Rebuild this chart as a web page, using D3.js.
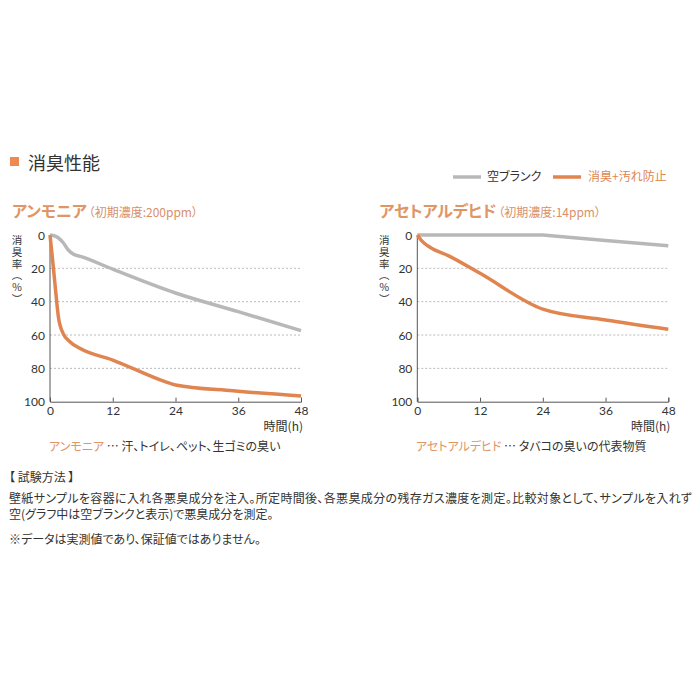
<!DOCTYPE html>
<html><head><meta charset="utf-8">
<script src="https://cdn.jsdelivr.net/npm/d3@7"></script>
<style>
body{margin:0;background:#fff;font-family:"Noto Sans CJK JP","Noto Sans",sans-serif;}
text{font-feature-settings:"palt";}
text.vt{writing-mode:vertical-rl;font-feature-settings:normal;letter-spacing:1.2px;}
</style></head><body>
<svg id="c" width="700" height="700"></svg>
<script>
const hours = [0, 12, 24, 36, 48];
const yTicks = [0, 20, 40, 60, 80, 100];
const seriesNames = ["空ブランク", "消臭+汚れ防止"];
// Ammonia
const ammoniaBlankT = [0, 0.6, 1.5, 2.5, 3.5, 4.5, 6, 12, 24, 36, 48];
const ammoniaBlankV = [0, 0.3, 1.5, 4.5, 9, 11.5, 13, 20.5, 34.8, 46, 57.4];
const ammoniaOdorT = [0, 0.5, 1, 1.6, 2.5, 3.8, 5.7, 12, 22, 24, 35, 48];
const ammoniaOdorV = [0, 15, 31, 49, 59, 64, 68, 75, 88, 90, 93.5, 96.6];
// Acetaldehyde
const acetBlankT = [0, 12, 24, 36, 48];
const acetBlankV = [0, 0, 0, 3.3, 6.5];
const acetOdorT = [0, 1, 2.5, 6, 12, 24, 36, 48];
const acetOdorV = [0, 4, 7.5, 12.5, 23, 44.5, 51, 56.5];
const yTitle = "消臭率（％）";

const ORANGE = "#e0854f", GRAY = "#b8b8b8", TEXT = "#333";
const svg = d3.select("#c");

// Title
svg.append("rect").attr("x", 10).attr("y", 157).attr("width", 9).attr("height", 9).attr("fill", "#ee8a4f");
svg.append("text").attr("x", 28).attr("y", 170).attr("font-size", 18).attr("fill", "#333").text("消臭性能");

// Legend
const leg = svg.append("g");
leg.append("line").attr("x1", 453).attr("x2", 481).attr("y1", 177).attr("y2", 177).attr("stroke", GRAY).attr("stroke-width", 3.5);
leg.append("text").attr("x", 487).attr("y", 181).attr("font-size", 12).attr("fill", TEXT).text(seriesNames[0]);
leg.append("line").attr("x1", 553).attr("x2", 581).attr("y1", 177).attr("y2", 177).attr("stroke", ORANGE).attr("stroke-width", 3.5);
leg.append("text").attr("x", 588).attr("y", 181).attr("font-size", 12).attr("fill", ORANGE).text(seriesNames[1]);

function chart(x0, x1, title, sub, blankT, blankV, odorT, odorV, capName, capRest, capX, blankCurve) {
  const g = svg.append("g");
  const x = d3.scaleLinear().domain([0, 48]).range([x0, x1]);
  const y = d3.scaleLinear().domain([0, 100]).range([235, 401.7]);
  // Title
  const t = g.append("text").attr("x", x0 - 38).attr("y", 217);
  t.append("tspan").attr("font-size", 16).attr("font-weight", "bold").attr("fill", "#e09566").text(title);
  t.append("tspan").attr("font-size", 12).attr("fill", "#d9906a").attr("dx", 2).text(sub);
  // gridlines
  g.selectAll(".gr").data(yTicks.filter(d => d > 0 && d < 100)).enter().append("line")
    .attr("x1", x0).attr("x2", x1).attr("y1", d => y(d)).attr("y2", d => y(d))
    .attr("stroke", "#aaa").attr("stroke-width", 0.8).attr("stroke-dasharray", "2,2");
  // y labels
  g.selectAll(".yl").data(yTicks).enter().append("text")
    .attr("x", x0 - 5).attr("y", d => y(d) + 4.5).attr("text-anchor", "end")
    .attr("font-size", 12).attr("fill", TEXT).attr("font-family", "Lato, 'Noto Sans', sans-serif").text(d => d);
  // axes lines
  g.append("line").attr("x1", x0).attr("x2", x0).attr("y1", 235).attr("y2", y(100)).attr("stroke", "#555").attr("stroke-width", 1);
  const xa = g.append("g").attr("transform", `translate(0,${y(100)})`)
    .call(d3.axisBottom(x).tickValues(hours).tickSize(-4).tickPadding(5).tickFormat(d3.format("d")));
  xa.select(".domain").attr("stroke", "#555");
  xa.selectAll(".tick line").attr("stroke", "#555");
  xa.selectAll(".tick text").attr("font-size", 12).attr("fill", TEXT).attr("font-family", "Lato, 'Noto Sans', sans-serif");
  // y title vertical
  g.append("text").attr("class", "vt").attr("x", x0 - 33).attr("y", 235)
    .attr("font-size", 10.5).attr("fill", TEXT).text(yTitle);
  // x title
  g.append("text").attr("x", x1 + 2).attr("y", 431).attr("text-anchor", "end").attr("font-size", 12).attr("fill", TEXT).text("時間(h)");
  // lines
  const lineB = d3.line().x(d => x(d[0])).y(d => y(d[1])).curve(blankCurve);
  const lineO = d3.line().x(d => x(d[0])).y(d => y(d[1])).curve(d3.curveMonotoneX);
  g.append("path").datum(blankT.map((v, i) => [v, blankV[i]])).attr("d", lineB)
    .attr("fill", "none").attr("stroke", GRAY).attr("stroke-width", 3.5);
  g.append("path").datum(odorT.map((v, i) => [v, odorV[i]])).attr("d", lineO)
    .attr("fill", "none").attr("stroke", ORANGE).attr("stroke-width", 3.5);
  // caption
  const c = g.append("text").attr("x", capX).attr("y", 451).attr("font-size", 12);
  c.append("tspan").attr("fill", "#e09566").text(capName);
  c.append("tspan").attr("fill", TEXT).text(capRest);
}

chart(50, 301, "アンモニア", "（初期濃度:200ppm）", ammoniaBlankT, ammoniaBlankV, ammoniaOdorT, ammoniaOdorV,
  "アンモニア", " … 汗、トイレ、ペット、生ゴミの臭い", 49, d3.curveMonotoneX);
chart(417.3, 668.3, "アセトアルデヒド", "（初期濃度:14ppm）", acetBlankT, acetBlankV, acetOdorT, acetOdorV,
  "アセトアルデヒド", " … タバコの臭いの代表物質", 416, d3.curveLinear);

// Notes
const notes = [
  ["【 試験方法 】", 482],
  ["壁紙サンプルを容器に入れ各悪臭成分を注入。所定時間後、各悪臭成分の残存ガス濃度を測定。比較対象として、サンプルを入れず", 503],
  ["空(グラフ中は空ブランクと表示)で悪臭成分を測定。", 519],
  ["※データは実測値であり、保証値ではありません。", 544]
];
svg.selectAll(".note").data(notes).enter().append("text")
  .attr("x", 9).attr("y", d => d[1]).attr("font-size", 12).attr("fill", TEXT)
  .attr("textLength", d => d[0].startsWith("壁紙") ? 683 : null)
  .text(d => d[0]);
</script>
</body></html>
